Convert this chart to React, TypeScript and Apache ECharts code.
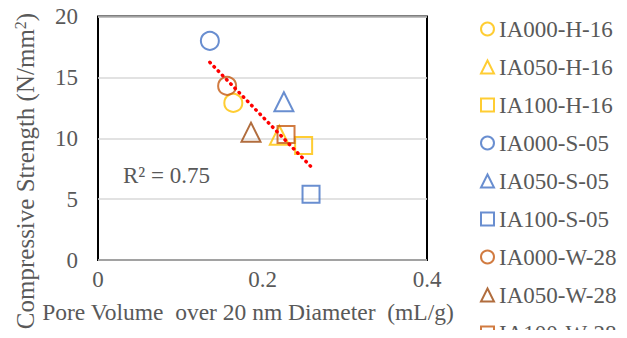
import { useEffect, useRef } from "react";
import * as echarts from "echarts";

const seriesNames = [
  "IA000-H-16",
  "IA050-H-16",
  "IA100-H-16",
  "IA000-S-05",
  "IA050-S-05",
  "IA100-S-05",
  "IA000-W-28",
  "IA050-W-28",
  "IA100-W-28",
];
const poreVolume = [0.1645, 0.2205, 0.25, 0.136, 0.226, 0.259, 0.157, 0.186, 0.2286];
const strength = [12.9, 10.25, 9.4, 18.0, 13.0, 5.4, 14.3, 10.5, 10.3];
const symbols = ["circle", "triangle", "rect", "circle", "triangle", "rect", "circle", "triangle", "rect"];
const colors = ["#FFC000", "#FFC000", "#FFC000", "#4472C4", "#4472C4", "#4472C4", "#C55A11", "#9E480E", "#C55A11"];
const rSquaredLabel = "R² = 0.75";
const xTitle = "Pore Volume  over 20 nm Diameter  (mL/g)";

const FONT = "'Liberation Serif', 'Times New Roman', serif";
const TEXT = "#595959";

export default function App() {
  const ref = useRef<HTMLDivElement>(null);
  useEffect(() => {
    if (!ref.current) return;
    const chart = echarts.init(ref.current, undefined, { renderer: "svg" });

    // linear regression trendline from data
    const n = poreVolume.length;
    const mx = poreVolume.reduce((a, b) => a + b, 0) / n;
    const my = strength.reduce((a, b) => a + b, 0) / n;
    let sxy = 0;
    let sxx = 0;
    for (let i = 0; i < n; i++) {
      sxy += (poreVolume[i] - mx) * (strength[i] - my);
      sxx += (poreVolume[i] - mx) ** 2;
    }
    const slope = sxy / sxx;
    const icpt = my - slope * mx;
    const xMin = Math.min(...poreVolume);
    const xMax = Math.max(...poreVolume);

    const scatter = seriesNames.map((name, i) => ({
      name,
      type: "scatter",
      symbol: symbols[i],
      symbolSize: symbols[i] === "rect" ? 17 : symbols[i] === "triangle" ? 19 : 18,
      data: [[poreVolume[i], strength[i]]],
      itemStyle: { color: "rgba(255,255,255,0)", borderColor: colors[i], borderWidth: 2 },
      z: 3,
    }));

    chart.setOption({
      animation: false,
      grid: {
        left: 98,
        top: 16.5,
        right: 200,
        bottom: 78,
        show: true,
        borderColor: "#000",
        borderWidth: 2,
        containLabel: false,
      },
      xAxis: {
        type: "value",
        min: 0,
        max: 0.4,
        interval: 0.2,
        axisLine: { show: false },
        axisTick: { show: false },
        splitLine: { show: false },
        axisLabel: { color: TEXT, fontFamily: FONT, fontSize: 23, margin: 8 },
      },
      yAxis: {
        type: "value",
        min: 0,
        max: 20,
        interval: 5,
        axisLine: { show: false },
        axisTick: { show: false },
        splitLine: { show: true, lineStyle: { color: "#D9D9D9", width: 1.5 } },
        axisLabel: { color: TEXT, fontFamily: FONT, fontSize: 23, margin: 20 },
      },
      legend: {
        orient: "vertical",
        left: 475,
        top: 12,
        height: 600,
        itemWidth: 13,
        itemHeight: 13,
        itemGap: 14,
        data: seriesNames,
        textStyle: { color: TEXT, fontFamily: FONT, fontSize: 23, lineHeight: 24 },
      },
      graphic: [
        {
          type: "text",
          x: 25,
          y: 171,
          rotation: Math.PI / 2,
          style: {
            text: "Compressive Strength (N/mm{sup|2})",
            fill: TEXT,
            font: `25px ${FONT}`,
            align: "center",
            verticalAlign: "middle",
            rich: {
              sup: { fontSize: 16, fontFamily: FONT, fill: TEXT, verticalAlign: "top", padding: [0, 0, 10, 0] },
            },
          },
        },
        {
          type: "text",
          x: 248,
          y: 312,
          style: {
            text: xTitle,
            fill: TEXT,
            font: `23.5px ${FONT}`,
            align: "center",
            verticalAlign: "middle",
          },
        },
        {
          type: "text",
          x: 123,
          y: 175,
          style: {
            text: rSquaredLabel,
            fill: TEXT,
            font: `23px ${FONT}`,
            align: "left",
            verticalAlign: "middle",
          },
        },
      ],
      series: [
        ...scatter,
        {
          name: "trend",
          type: "line",
          data: [
            [xMin, icpt + slope * xMin],
            [xMax, icpt + slope * xMax],
          ],
          showSymbol: false,
          symbol: "none",
          lineStyle: { color: "#FF0000", width: 3.5, type: [0.5, 5.5], cap: "round" },
          z: 4,
        },
      ],
    });
    return () => chart.dispose();
  }, []);
  return <div ref={ref} style={{ width: 627, height: 338, margin: -8 }} />;
}
